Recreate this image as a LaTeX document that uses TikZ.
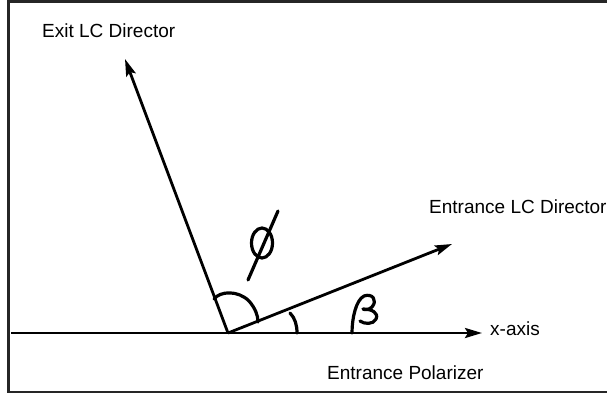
\documentclass[tikz,border=0pt]{standalone}
\usepackage{fontspec}
\setmainfont{Liberation Sans}
\usetikzlibrary{arrows.meta}

\begin{document}
\begin{tikzpicture}[
  x=1pt, y=-1pt,
  font=\fontsize{19}{22}\selectfont,
  lab/.style={anchor=base west, inner sep=0pt},
  vec/.style={-{Stealth[length=17pt, width=10pt, inset=3pt]}, line width=2.8pt},
  hand/.style={line width=3.2pt, line cap=round, line join=round},
  frame/.style={line width=2.8pt, black!85}
]
\useasboundingbox (0,0) rectangle (607,394);

% ---------- frame ----------
\draw[frame] (607,1.5) -- (8.5,1.5) -- (8.5,392) -- (607,392);

% ---------- axes and directors ----------
\coordinate (O) at (228,333);
\coordinate (axisstart) at (11,333);
\coordinate (axistip) at (482,333);
\coordinate (exittip) at (125,59);
\coordinate (entrtip) at (452,244);

\draw[line width=2.8pt] (axisstart) -- (O);
\draw[vec] (O) -- (axistip);
\draw[vec] (O) -- (exittip);
\draw[vec] (O) -- (entrtip);

% ---------- labels ----------
\node[lab] (exitlab) at (42,37) {Exit LC Director};
\node[lab] (entrlab) at (429,213) {Entrance LC Director};
\node[lab] (axislab) at (490,335) {x-axis};
\node[lab] (pollab) at (327,379) {Entrance Polarizer};

% ---------- angle marks (hand drawn) ----------
\draw[hand] (214,299) .. controls (220,291) and (238,290) .. (249,301)
  .. controls (255,308) and (258,315) .. (258,322);
\draw[hand] (290,313) .. controls (295,318) and (297,325) .. (297,333);

% phi
\draw[hand] (262,243) ellipse[x radius=10.5, y radius=15];
\draw[hand] (278,211) -- (248,280);

% beta
\draw[hand] (352,333) .. controls (352,318) and (356,300) .. (364,296)
  .. controls (372,293) and (378,300) .. (372,307)
  .. controls (369,310) and (364,310) .. (363,309)
  .. controls (372,309) and (379,313) .. (376,319)
  .. controls (373,325) and (364,324) .. (360,321);

\end{tikzpicture}
\end{document}
